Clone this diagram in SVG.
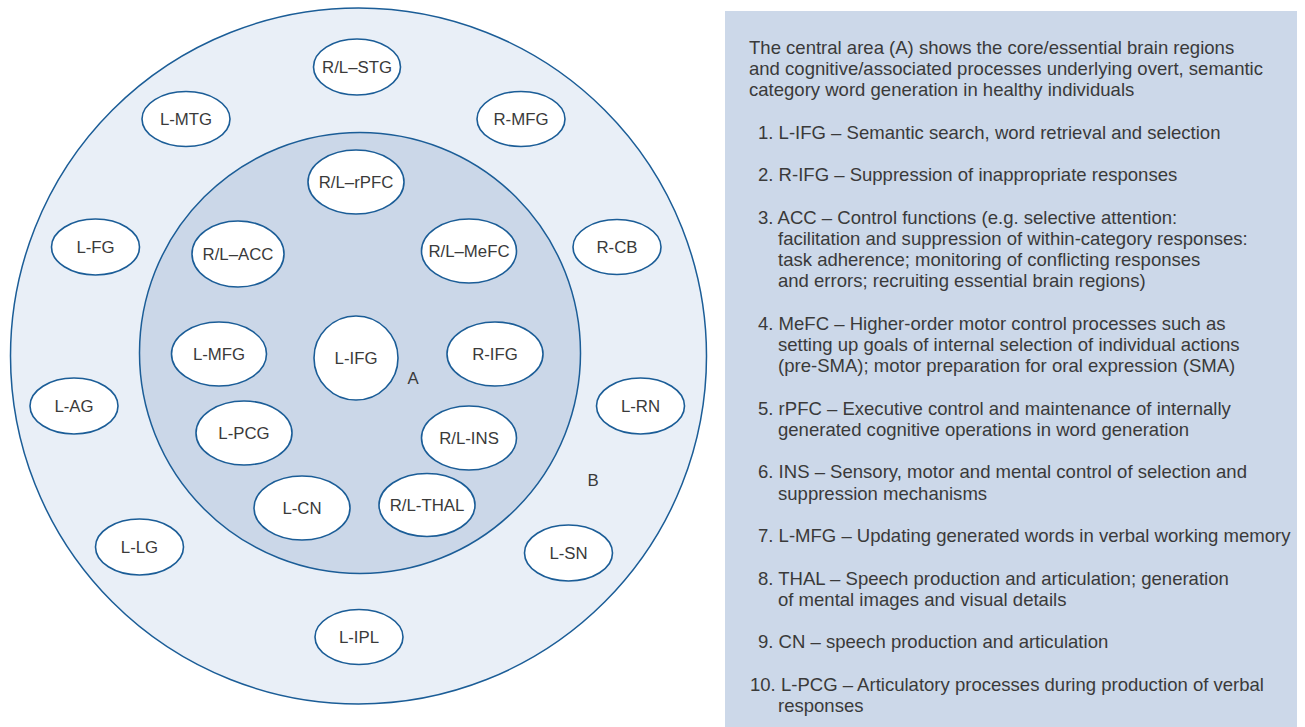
<svg xmlns="http://www.w3.org/2000/svg" width="1305" height="727" viewBox="0 0 1305 727">
<style>
.zone{stroke:#1b5d97;stroke-width:1.5}
.node ellipse{fill:#ffffff;stroke:#1b5d97;stroke-width:1.6}
.lbl{font-family:"Liberation Sans",Arial,sans-serif;font-size:16.8px;fill:#3a3a3a;text-anchor:middle}
.pt{font-family:"Liberation Sans",Arial,sans-serif;font-size:18.55px;fill:#3a3a3a}
</style>
<rect width="1305" height="727" fill="#ffffff"/>
<g id="zone-B">
<circle class="zone" cx="358.5" cy="356" r="348" fill="#e9eff7"/>
<text class="lbl" x="593" y="486">B</text>
</g>
<g id="zone-A">
<circle class="zone" cx="360" cy="353" r="220.5" fill="#cbd7e8"/>
<text class="lbl" x="413" y="384">A</text>
</g>
<g id="connectors"/>
<g id="n-STG" class="node"><ellipse cx="357" cy="67" rx="43.5" ry="28"/><text class="lbl" x="357" y="73">R/L–STG</text></g>
<g id="n-MTG" class="node"><ellipse cx="186" cy="119" rx="44" ry="27.5"/><text class="lbl" x="186" y="125">L-MTG</text></g>
<g id="n-RMFG" class="node"><ellipse cx="521" cy="119" rx="44" ry="27.5"/><text class="lbl" x="521" y="125">R-MFG</text></g>
<g id="n-FG" class="node"><ellipse cx="95.5" cy="247" rx="44" ry="28"/><text class="lbl" x="95.5" y="253">L-FG</text></g>
<g id="n-CB" class="node"><ellipse cx="617" cy="247" rx="44" ry="27.5"/><text class="lbl" x="617" y="253">R-CB</text></g>
<g id="n-AG" class="node"><ellipse cx="74" cy="406" rx="44" ry="28"/><text class="lbl" x="74" y="412">L-AG</text></g>
<g id="n-RN" class="node"><ellipse cx="640.5" cy="406" rx="44" ry="28"/><text class="lbl" x="640.5" y="412">L-RN</text></g>
<g id="n-LG" class="node"><ellipse cx="139.5" cy="547" rx="44" ry="28"/><text class="lbl" x="139.5" y="553">L-LG</text></g>
<g id="n-SN" class="node"><ellipse cx="568.5" cy="553" rx="44" ry="28"/><text class="lbl" x="568.5" y="559">L-SN</text></g>
<g id="n-IPL" class="node"><ellipse cx="359" cy="637" rx="44" ry="27.5"/><text class="lbl" x="359" y="643">L-IPL</text></g>
<g id="n-rPFC" class="node"><ellipse cx="356" cy="182" rx="48" ry="32"/><text class="lbl" x="356" y="188">R/L–rPFC</text></g>
<g id="n-ACC" class="node"><ellipse cx="238" cy="254" rx="46" ry="33"/><text class="lbl" x="238" y="260">R/L–ACC</text></g>
<g id="n-MeFC" class="node"><ellipse cx="469" cy="251" rx="47.5" ry="32"/><text class="lbl" x="469" y="257">R/L–MeFC</text></g>
<g id="n-LMFG" class="node"><ellipse cx="219" cy="354" rx="47.5" ry="32"/><text class="lbl" x="219" y="360">L-MFG</text></g>
<g id="n-LIFG" class="node"><ellipse cx="356" cy="358" rx="42" ry="42"/><text class="lbl" x="356" y="364">L-IFG</text></g>
<g id="n-RIFG" class="node"><ellipse cx="495" cy="354" rx="48" ry="32"/><text class="lbl" x="495" y="360">R-IFG</text></g>
<g id="n-PCG" class="node"><ellipse cx="244" cy="433" rx="48" ry="32"/><text class="lbl" x="244" y="439">L-PCG</text></g>
<g id="n-INS" class="node"><ellipse cx="469" cy="438" rx="47.5" ry="32"/><text class="lbl" x="469" y="444">R/L-INS</text></g>
<g id="n-CN" class="node"><ellipse cx="302" cy="508" rx="48" ry="32"/><text class="lbl" x="302" y="514">L-CN</text></g>
<g id="n-THAL" class="node"><ellipse cx="427" cy="505" rx="48" ry="31.5"/><text class="lbl" x="427" y="511">R/L-THAL</text></g>
<g id="legend">
<rect x="725" y="11" width="572" height="716" fill="#ccd8e9"/>
<text class="pt" x="749" y="54">The central area (A) shows the core/essential brain regions</text>
<text class="pt" x="749" y="75.2">and cognitive/associated processes underlying overt, semantic</text>
<text class="pt" x="749" y="96.4">category word generation in healthy individuals</text>
<text class="pt" x="758" y="138.9">1. L-IFG – Semantic search, word retrieval and selection</text>
<text class="pt" x="758" y="181.3">2. R-IFG – Suppression of inappropriate responses</text>
<text class="pt" x="758" y="223.8">3. ACC – Control functions (e.g. selective attention:</text>
<text class="pt" x="778" y="245">facilitation and suppression of within-category responses:</text>
<text class="pt" x="778" y="266.2">task adherence; monitoring of conflicting responses</text>
<text class="pt" x="778" y="287.4">and errors; recruiting essential brain regions)</text>
<text class="pt" x="758" y="329.9">4. MeFC – Higher-order motor control processes such as</text>
<text class="pt" x="778" y="351.1">setting up goals of internal selection of individual actions</text>
<text class="pt" x="778" y="372.3">(pre-SMA); motor preparation for oral expression (SMA)</text>
<text class="pt" x="758" y="414.7">5. rPFC – Executive control and maintenance of internally</text>
<text class="pt" x="778" y="436">generated cognitive operations in word generation</text>
<text class="pt" x="758" y="478.4">6. INS – Sensory, motor and mental control of selection and</text>
<text class="pt" x="778" y="499.6">suppression mechanisms</text>
<text class="pt" x="758" y="542.1">7. L-MFG – Updating generated words in verbal working memory</text>
<text class="pt" x="758" y="584.5">8. THAL – Speech production and articulation; generation</text>
<text class="pt" x="778" y="605.7">of mental images and visual details</text>
<text class="pt" x="758" y="648.2">9. CN – speech production and articulation</text>
<text class="pt" x="750" y="690.6">10. L-PCG – Articulatory processes during production of verbal</text>
<text class="pt" x="778" y="711.9">responses</text>
</g>
</svg>
